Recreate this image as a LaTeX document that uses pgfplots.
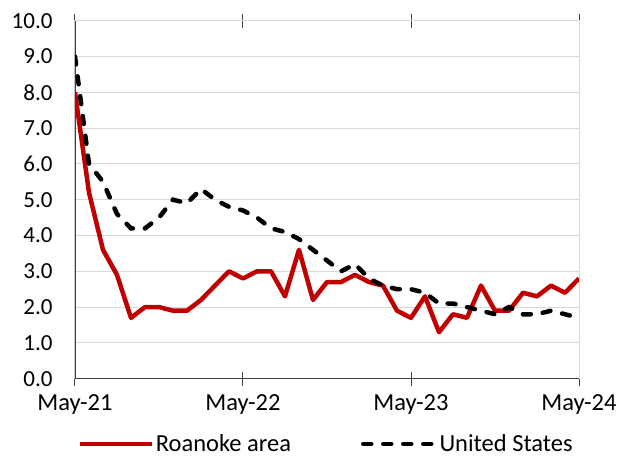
\documentclass[border=0pt]{standalone}
\usepackage{pgfplots}
\pgfplotsset{compat=1.18}
\usepackage{fontspec}
\setmainfont{Carlito}
\definecolor{roa}{HTML}{C00000}
\definecolor{gridc}{HTML}{D9D9D9}
\definecolor{axc}{HTML}{404040}
\begin{document}
\begin{tikzpicture}[x=1pt,y=1pt]
\useasboundingbox (-75,-78.3) rectangle (544,378.7);
\begin{axis}[
  at={(0,0)}, anchor=south west,
  scale only axis, width=504pt, height=358pt,
  xmin=0, xmax=36, ymin=0, ymax=10,
  xtick={0,12,24,36}, xticklabels={May-21,May-22,May-23,May-24},
  ytick={0,1,...,10},
  /pgf/number format/assume math mode=true,
  yticklabel={\pgfmathprintnumber[fixed,fixed zerofill,precision=1]{\tick}},
  yticklabel style={font=\fontsize{23}{27}\selectfont, xshift=-12pt},
  xticklabel style={font=\fontsize{24.5}{28}\selectfont, yshift=-5pt},
  ymajorgrids, grid style={gridc, line width=1pt},
  axis line style={gridc, line width=1pt},
  ytick style={draw=none},
  xtick style={axc, line width=1pt},
  tick align=center, major tick length=14pt,
  legend style={at={(0.498,-0.182)}, anchor=center, draw=none, fill=none,
    legend columns=2, font=\fontsize{24.5}{28}\selectfont,
    /tikz/every even column/.append style={column sep=68pt}},
  legend image code/.code={\draw[#1] (0pt,0pt) -- (72pt,0pt);},
]
\draw[axc, line width=1.2pt] (rel axis cs:0,0) -- (rel axis cs:1,0);
\draw[axc, line width=1.2pt] (rel axis cs:0,0) -- (rel axis cs:0,1);
\addplot[roa, line width=4.5pt, line join=round, mark=none] coordinates {
(0,8.0)(1,5.2)(2,3.6)(3,2.9)(4,1.7)(5,2.0)(6,2.0)(7,1.9)(8,1.9)(9,2.2)
(10,2.6)(11,3.0)(12,2.8)(13,3.0)(14,3.0)(15,2.3)(16,3.6)(17,2.2)(18,2.7)(19,2.7)
(20,2.9)(21,2.7)(22,2.6)(23,1.9)(24,1.7)(25,2.3)(26,1.3)(27,1.8)(28,1.7)(29,2.6)
(30,1.9)(31,1.9)(32,2.4)(33,2.3)(34,2.6)(35,2.4)(36,2.8)};
\addlegendentry{Roanoke area}
\addplot[black, line width=4.5pt, line cap=round, dash pattern=on 8pt off 12pt, mark=none] coordinates {
(0,9.0)(1,6.0)(2,5.5)(3,4.6)(4,4.2)(5,4.2)(6,4.5)(7,5.0)(8,4.9)(9,5.3)
(10,5.0)(11,4.8)(12,4.7)(13,4.5)(14,4.2)(15,4.1)(16,3.9)(17,3.6)(18,3.3)(19,3.0)
(20,3.2)(21,2.8)(22,2.6)(23,2.5)(24,2.5)(25,2.4)(26,2.1)(27,2.1)(28,2.0)(29,1.9)
(30,1.8)(31,2.0)(32,1.8)(33,1.8)(34,1.9)(35,1.8)(36,1.7)};
\addlegendentry{United States}
\end{axis}
\end{tikzpicture}
\end{document}
